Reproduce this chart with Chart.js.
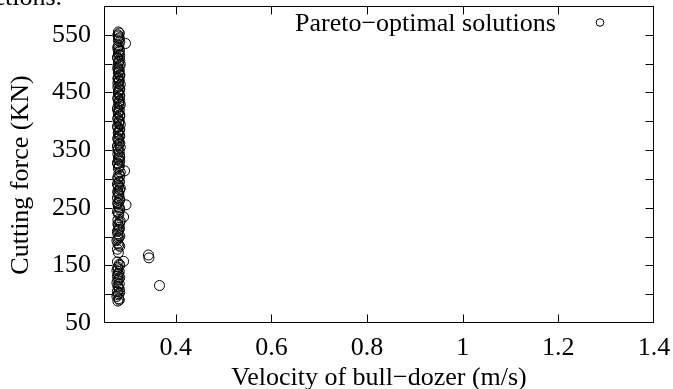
<!DOCTYPE html>
<html>
<head>
<meta charset="utf-8">
<script src="https://cdn.jsdelivr.net/npm/chart.js@4.4.1/dist/chart.umd.min.js"></script>
<style>
body { margin: 0; background: #fff; }
#wrap { width: 673px; height: 389px; }
</style>
</head>
<body>
<div id="wrap"><canvas id="paretoChart" width="673" height="389"></canvas></div>
<script>
// pareto front: velocity (m/s) vs cutting force (KN)
const velocity = [
    0.279, 0.281, 0.277, 0.280, 0.278, 0.282, 0.279, 0.277, 0.281, 0.278,
    0.280, 0.277, 0.279, 0.282, 0.278, 0.291, 0.280, 0.278, 0.283, 0.279,
    0.277, 0.281, 0.279, 0.278, 0.282, 0.280, 0.283, 0.279, 0.291, 0.281,
    0.278, 0.283, 0.280, 0.296, 0.279, 0.282, 0.278, 0.281, 0.279, 0.283,
    0.280, 0.278, 0.282, 0.279, 0.283, 0.281, 0.293, 0.280, 0.282, 0.278,
    0.281, 0.283, 0.279, 0.282, 0.280, 0.278, 0.283, 0.281, 0.279, 0.282,
    0.280, 0.283, 0.278, 0.281, 0.282, 0.279, 0.283, 0.280, 0.278, 0.282,
    0.281, 0.283, 0.279, 0.282, 0.280, 0.283, 0.281, 0.279, 0.282, 0.280,
    0.283, 0.281, 0.279, 0.282, 0.280, 0.283, 0.278, 0.281, 0.282, 0.279,
    0.281, 0.295, 0.280, 0.282, 0.279, 0.280, 0.343, 0.344, 0.366,
    0.282, 0.279, 0.283, 0.280, 0.282, 0.279, 0.283, 0.280, 0.282, 0.279,
    0.283, 0.281, 0.279, 0.283, 0.280, 0.282, 0.279, 0.284, 0.280, 0.282,
    0.279, 0.283, 0.281, 0.279, 0.284, 0.280, 0.282, 0.279, 0.284, 0.281,
    0.279, 0.283, 0.280, 0.282, 0.279, 0.284, 0.281, 0.279, 0.283, 0.280,
    0.282, 0.279, 0.284, 0.281, 0.279, 0.283, 0.280, 0.282, 0.279, 0.284,
    0.281, 0.279, 0.283, 0.280, 0.282, 0.279, 0.284, 0.281, 0.279, 0.283,
    0.280, 0.282, 0.279, 0.284, 0.281, 0.279, 0.283, 0.280, 0.282, 0.279,
    0.283, 0.281, 0.280, 0.282
];
const force = [
    88, 92, 96, 101, 105, 109, 114, 120, 126, 131,
    136, 141, 147, 152, 156, 157, 172, 178, 183, 188,
    193, 198, 204, 209, 213, 219, 224, 229, 234, 238,
    243, 247, 252, 255, 257, 262, 267, 271, 276, 281,
    286, 291, 296, 300, 305, 309, 314, 318, 323, 328,
    333, 338, 343, 347, 352, 357, 362, 366, 371, 376,
    381, 386, 391, 396, 401, 406, 411, 416, 421, 426,
    431, 436, 441, 446, 451, 456, 461, 466, 471, 476,
    481, 486, 491, 496, 501, 506, 511, 516, 521, 526,
    531, 535, 540, 545, 550, 555, 168, 163, 115,
    90, 99, 103, 112, 118, 124, 129, 134, 139, 144,
    150, 185, 196, 201, 211, 216, 222, 227, 241, 250,
    259, 265, 274, 279, 284, 289, 294, 303, 312, 321,
    326, 331, 336, 341, 350, 355, 360, 369, 374, 379,
    384, 389, 394, 399, 404, 409, 414, 419, 424, 429,
    434, 439, 444, 449, 454, 459, 464, 469, 474, 479,
    484, 489, 494, 499, 504, 509, 514, 519, 524, 529,
    538, 543, 548, 553
];

const x_ticks = [0.4, 0.6, 0.8, 1, 1.2, 1.4];
const y_ticks = [50, 100, 150, 200, 250, 300, 350, 400, 450, 500, 550, 600];
const y_labels = [50, 150, 250, 350, 450, 550];

const legend_label = "Pareto\u2212optimal solutions";
const x_title = "Velocity of bull\u2212dozer (m/s)";
const y_title = "Cutting force (KN)";

const serif = '"Liberation Serif", "Times New Roman", serif';
const font_size = 26;

// box, inward ticks, legend and the clipped caption line at the top
const framePlugin = {
    id: 'frame',
    afterDatasetsDraw(chart) {
        const ctx = chart.ctx;
        const a = chart.chartArea;
        const xs = chart.scales.x;
        const ys = chart.scales.y;
        const L = Math.round(a.left) + 0.5;
        const R = Math.round(a.right) - 0.5;
        const T = Math.round(a.top) + 0.5;
        const B = Math.round(a.bottom) - 0.5;
        const len = 8;

        ctx.save();
        ctx.strokeStyle = '#000';
        ctx.lineWidth = 1;
        ctx.strokeRect(L, T, R - L, B - T);

        ctx.beginPath();
        x_ticks.forEach(v => {
            const px = Math.round(xs.getPixelForValue(v)) + 0.5;
            if (px > R - 1) return;
            ctx.moveTo(px, B); ctx.lineTo(px, B - len);
            ctx.moveTo(px, T); ctx.lineTo(px, T + len);
        });
        y_ticks.forEach(v => {
            const py = Math.round(ys.getPixelForValue(v)) + 0.5;
            if (py < T + 1 || py > B - 1) return;
            ctx.moveTo(L, py); ctx.lineTo(L + len, py);
            ctx.moveTo(R, py); ctx.lineTo(R - len, py);
        });
        ctx.stroke();

        // legend (text then marker, inside the box)
        ctx.fillStyle = '#000';
        ctx.font = font_size + 'px ' + serif;
        ctx.textAlign = 'left';
        ctx.textBaseline = 'alphabetic';
        ctx.fillText(legend_label, 295, 31);
        ctx.beginPath();
        ctx.arc(600, 22.5, 3.8, 0, Math.PI * 2);
        ctx.stroke();

        // y title
        ctx.save();
        ctx.translate(21, 175);
        ctx.rotate(-Math.PI / 2);
        ctx.textAlign = 'center';
        ctx.textBaseline = 'middle';
        ctx.fillText(y_title, 0, 0);
        ctx.restore();

        // leftover line from the page above the figure
        ctx.textAlign = 'right';
        ctx.fillText('functions.', 62, 5);
        ctx.restore();
    }
};

const ctx = document.getElementById('paretoChart').getContext('2d');

const paretoChart = new Chart(ctx, {
    type: 'scatter',
    data: {
        datasets: [{
            label: legend_label,
            data: velocity.map((v, i) => ({ x: v, y: force[i] })),
            pointStyle: 'circle',
            pointRadius: 5,
            pointHoverRadius: 5,
            borderWidth: 1,
            borderColor: '#000',
            backgroundColor: 'rgba(0,0,0,0)'
        }]
    },
    options: {
        responsive: false,
        animation: false,
        layout: {
            padding: { top: 4, right: 19, left: 0, bottom: 0 }
        },
        plugins: {
            legend: { display: false },
            tooltip: { enabled: false }
        },
        scales: {
            x: {
                type: 'linear',
                min: 0.25,
                max: 1.4,
                grid: { display: false, drawTicks: false },
                border: { display: false },
                afterBuildTicks: scale => {
                    scale.ticks = x_ticks.map(v => ({ value: v }));
                },
                afterFit: scale => {
                    scale.height = 66;
                    scale.paddingLeft = 0;
                    scale.paddingRight = 0;
                },
                ticks: {
                    autoSkip: false,
                    maxRotation: 0,
                    padding: 10,
                    color: '#000',
                    font: { family: serif, size: font_size },
                    callback: value => String(Math.round(value * 10) / 10)
                },
                title: {
                    display: true,
                    text: x_title,
                    color: '#000',
                    font: { family: serif, size: font_size, lineHeight: 1 },
                    padding: { top: 0, bottom: -2 }
                }
            },
            y: {
                type: 'linear',
                min: 50,
                max: 600,
                grid: { display: false, drawTicks: false },
                border: { display: false },
                afterBuildTicks: scale => {
                    scale.ticks = y_ticks.map(v => ({ value: v }));
                },
                afterFit: scale => {
                    scale.width = 104;
                    scale.paddingTop = 0;
                    scale.paddingBottom = 0;
                },
                ticks: {
                    autoSkip: false,
                    padding: 13,
                    color: '#000',
                    font: { family: serif, size: font_size },
                    callback: value => y_labels.includes(value) ? String(value) : ''
                }
            }
        }
    },
    plugins: [framePlugin]
});
</script>
</body>
</html>
